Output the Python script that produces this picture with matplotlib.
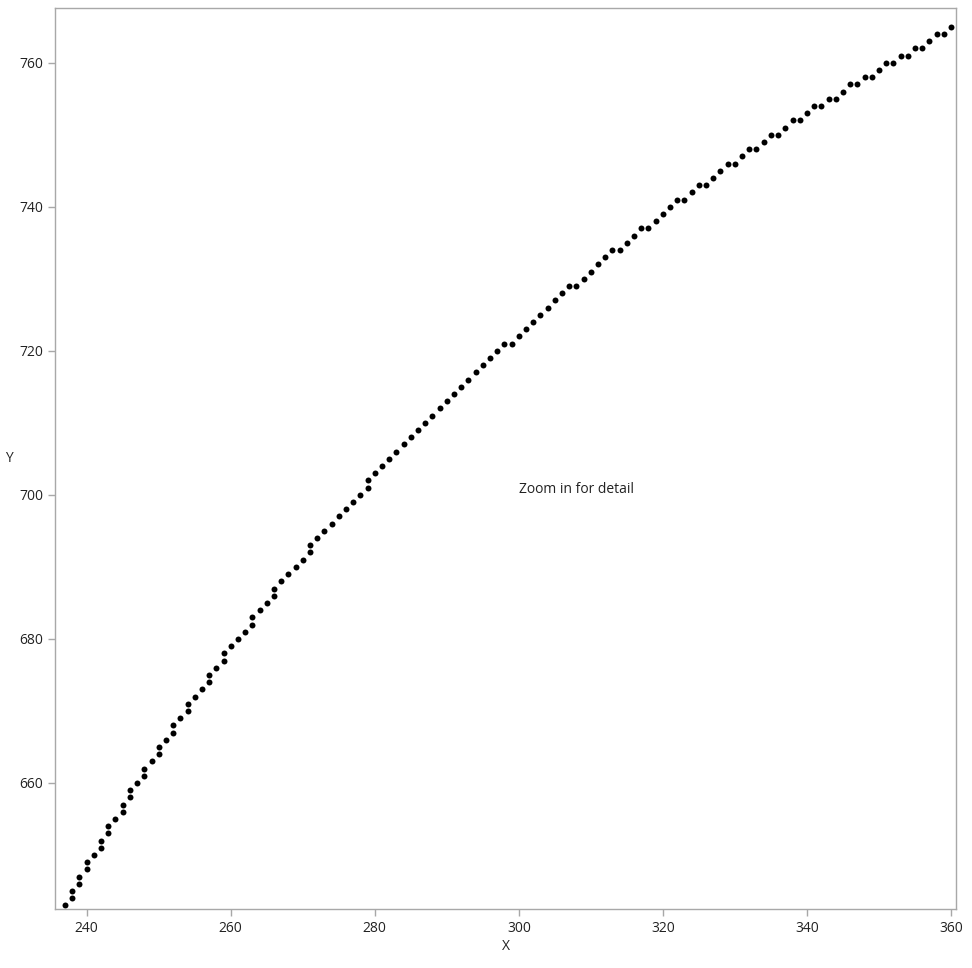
import matplotlib
matplotlib.use("Agg")
import matplotlib.pyplot as plt

# points (integer grid)
x_vals = [237, 238, 238, 239, 239, 240, 240, 241, 242, 242, 243, 243, 244,
          245, 245, 246, 246, 247, 248, 248, 249, 250, 250, 251, 252, 252,
          253, 254, 254, 255, 256, 257, 257, 258, 259, 259, 260, 261, 262,
          263, 263, 264, 265, 266, 266, 267, 268, 269, 270, 271, 271, 272,
          273, 274, 275, 276, 277, 278, 279, 279,
          280, 281, 282, 283, 284, 285, 286, 287, 288, 289, 290,
          291, 292, 293, 294, 295, 296, 297, 298, 299, 300,
          301, 302, 303, 304, 305, 306, 307, 308, 309, 310,
          311, 312, 313, 314, 315, 316, 317, 318, 319, 320,
          321, 322, 323, 324, 325, 326, 327, 328, 329, 330,
          331, 332, 333, 334, 335, 336, 337, 338, 339, 340,
          341, 342, 343, 344, 345, 346, 347, 348, 349, 350,
          351, 352, 353, 354, 355, 356, 357, 358, 359, 360]
y_vals = [643, 644, 645, 646, 647, 648, 649, 650, 651, 652, 653, 654, 655,
          656, 657, 658, 659, 660, 661, 662, 663, 664, 665, 666, 667, 668,
          669, 670, 671, 672, 673, 674, 675, 676, 677, 678, 679, 680, 681,
          682, 683, 684, 685, 686, 687, 688, 689, 690, 691, 692, 693, 694,
          695, 696, 697, 698, 699, 700, 701, 702,
          703, 704, 705, 706, 707, 708, 709, 710, 711, 712, 713,
          714, 715, 716, 717, 718, 719, 720, 721, 721, 722,
          723, 724, 725, 726, 727, 728, 729, 729, 730, 731,
          732, 733, 734, 734, 735, 736, 737, 737, 738, 739,
          740, 741, 741, 742, 743, 743, 744, 745, 746, 746,
          747, 748, 748, 749, 750, 750, 751, 752, 752, 753,
          754, 754, 755, 755, 756, 757, 757, 758, 758, 759,
          760, 760, 761, 761, 762, 762, 763, 764, 764, 765]

x_ticks = [240, 260, 280, 300, 320, 340, 360]
y_ticks = [660, 680, 700, 720, 740, 760]

plt.rcParams['font.family'] = ['Open Sans', 'DejaVu Sans']

fig = plt.figure(figsize=(9.72, 9.68), dpi=100)
ax = fig.add_axes([55 / 972, (968 - 909) / 968, (956 - 55) / 972, (909 - 8) / 968])

ax.plot(x_vals, y_vals, 'o', color='black', markersize=4.3, markeredgewidth=0)

ax.set_xlim(235.6, 360.7)
ax.set_ylim(642.5, 767.6)
ax.set_xticks(x_ticks)
ax.set_yticks(y_ticks)

for s in ax.spines.values():
    s.set_color('#a8a8a8')
    s.set_linewidth(1)
ax.tick_params(colors='#a8a8a8', labelcolor='#222222', labelsize=10, length=5, width=1)

ax.set_xlabel("X", fontsize=10, color='#222222', labelpad=2)
ax.set_ylabel("Y", fontsize=10, color='#222222', rotation=0, va='center', ha='center')
ax.yaxis.set_label_coords(-0.051, 0.5)

ax.text(0.579, 0.466, "Zoom in for detail", transform=ax.transAxes,
        ha='center', va='center', fontsize=10, color='#222222')

fig.savefig("out.png", dpi=100)
